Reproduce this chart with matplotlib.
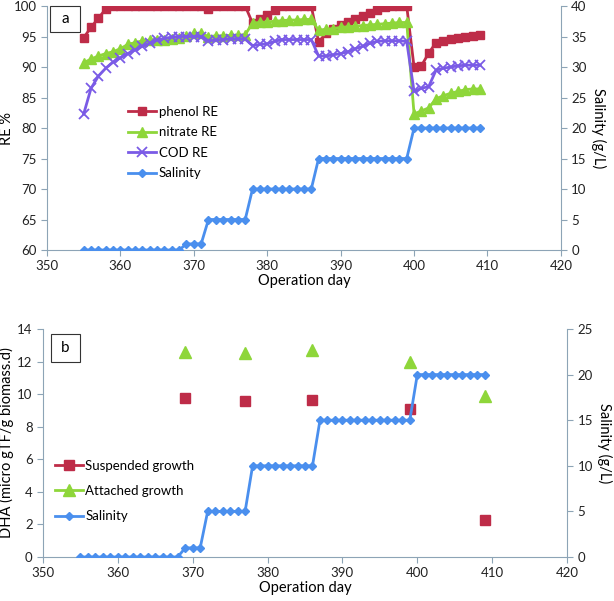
import matplotlib.pyplot as plt
from matplotlib.patches import Rectangle

plt.rcParams['font.family'] = ['Lato', 'DejaVu Sans']

days = list(range(355, 410))
phenol = [94.8, 96.5, 98.0, 99.5, 100, 100, 100, 100, 100, 100, 100, 100, 100, 100,
          100, 100, 100, 99.5, 100, 100, 100, 100, 100,
          97.2, 97.8, 98.5, 99.3, 100, 100, 100, 100, 100,
          94.1, 95.5, 96.3, 96.9, 97.4, 97.9, 98.4, 98.9, 99.4, 99.8, 100, 100, 100,
          90.0, 90.2, 92.3, 94.0, 94.3, 94.6, 94.8, 95.0, 95.1, 95.3]
nitrate = [90.7, 91.3, 91.8, 92.2, 92.5, 93.0, 93.7, 94.0, 94.3, 94.4, 94.5, 94.5, 94.6, 94.8,
           95.1, 95.5, 95.5, 95.0, 95.1, 95.1, 95.2, 95.2, 95.3,
           97.2, 97.3, 97.4, 97.5, 97.6, 97.7, 97.7, 97.8, 97.8,
           96.0, 96.2, 96.3, 96.5, 96.6, 96.7, 96.8, 96.9, 97.0, 97.1, 97.2, 97.3, 97.3,
           82.3, 82.8, 83.3, 84.8, 85.3, 85.7, 86.0, 86.3, 86.4, 86.4]
cod = [82.3, 86.5, 88.5, 89.8, 90.8, 91.5, 92.2, 92.8, 93.4, 93.9, 94.4, 94.7, 94.9, 95.0,
       95.0, 95.0, 95.0, 94.3, 94.4, 94.5, 94.6, 94.6, 94.6,
       93.5, 93.7, 93.8, 94.2, 94.5, 94.5, 94.5, 94.5, 94.5,
       91.8, 91.8, 92.0, 92.2, 92.5, 93.0, 93.4, 93.9, 94.2, 94.3, 94.3, 94.3, 94.2,
       86.0, 86.5, 86.8, 89.5, 89.8, 90.0, 90.2, 90.3, 90.3, 90.3]
salinity = [0] * 14 + [1] * 3 + [5] * 6 + [10] * 9 + [15] * 13 + [20] * 10

dha_days = [369, 377, 386, 399, 409]
suspended = [9.75, 9.6, 9.65, 9.1, 2.3]
attached = [12.6, 12.55, 12.7, 11.95, 9.9]

c_phen = '#BE2C48'
c_nit = '#8ED63A'
c_cod = '#7A5BE6'
c_sal = '#4A8FEE'
c_ax = '#8DA4B6'

fig = plt.figure(figsize=(6.14, 6.01), dpi=100)


def style(ax, ax2):
    for a in (ax, ax2):
        a.spines['top'].set_visible(False)
        for s in ('left', 'right', 'bottom'):
            a.spines[s].set_color(c_ax)
        a.tick_params(colors=c_ax, labelcolor='#222222', labelsize=9.5, length=4)
    ax.spines['right'].set_visible(False)
    ax2.spines['left'].set_visible(False)
    ax2.spines['bottom'].set_visible(False)
    ax.set_xlim(350, 420)
    ax.set_xticks(range(350, 421, 10))
    ax.set_xlabel('Operation day', fontsize=10.5, labelpad=1)


def label_box(ax, txt, x0, y0, x1, y1):
    ax.add_patch(Rectangle((x0, y0), x1 - x0, y1 - y0, transform=ax.transAxes,
                           fc='white', ec='#333333', lw=0.8, zorder=5, clip_on=False))
    ax.text((x0 + x1) / 2, (y0 + y1) / 2, txt, transform=ax.transAxes, fontsize=11,
            ha='center', va='center', zorder=6)


# panel a
ax = fig.add_axes([0.0765, 0.584, 0.837, 0.406])
ax2 = ax.twinx()
l1, = ax.plot(days, phenol, color=c_phen, lw=2, marker='s', ms=6, label='phenol RE')
l2, = ax.plot(days, nitrate, color=c_nit, lw=2, marker='^', ms=6.5, label='nitrate RE')
l3, = ax.plot(days, cod, color=c_cod, lw=2, marker='x', ms=7, mew=1.3, label='COD RE')
l4, = ax2.plot(days, salinity, color=c_sal, lw=2, marker='D', ms=4.5, label='Salinity')
ax.set_ylim(60, 100)
ax.set_yticks(range(60, 101, 5))
ax2.set_ylim(0, 40)
ax2.set_yticks(range(0, 41, 5))
style(ax, ax2)
ax.set_ylabel('RE %', fontsize=10.5)
ax.yaxis.set_label_coords(-0.064, 0.5)
ax2.set_ylabel('Salinity (g/L)', fontsize=10.5, rotation=270, labelpad=14)
ax2.legend(handles=[l1, l2, l3, l4], loc='upper left', bbox_to_anchor=(0.135, 0.64),
           frameon=False, fontsize=9.5, handlelength=2.1, labelspacing=0.65, handletextpad=0.2)
label_box(ax2, 'a', 0.006, 0.893, 0.064, 1.0)

# panel b
bx = fig.add_axes([0.070, 0.0732, 0.8535, 0.3794])
bx2 = bx.twinx()
m1, = bx.plot(dha_days, suspended, ls='none', color=c_phen, marker='s', ms=7.5)
m2, = bx.plot(dha_days, attached, ls='none', color=c_nit, marker='^', ms=8.5)
m4, = bx2.plot(days, salinity, color=c_sal, lw=2, marker='D', ms=4.5)
bx.set_ylim(0, 14)
bx.set_yticks(range(0, 15, 2))
bx2.set_ylim(0, 25)
bx2.set_yticks(range(0, 26, 5))
style(bx, bx2)
bx.set_ylabel('DHA (micro gTF/g biomass.d)', fontsize=10.5)
bx.yaxis.set_label_coords(-0.055, 0.5)
bx2.set_ylabel('Salinity (g/L)', fontsize=10.5, rotation=270, labelpad=14)
h1 = plt.Line2D([], [], color=c_phen, lw=2, marker='s', ms=7.5)
h2 = plt.Line2D([], [], color=c_nit, lw=2, marker='^', ms=8.5)
bx2.legend(handles=[h1, h2, m4], labels=['Suspended growth', 'Attached growth', 'Salinity'],
           loc='upper left', bbox_to_anchor=(0.0, 0.478), frameon=False, fontsize=9.5,
           handlelength=2.1, labelspacing=1.0, handletextpad=0.2)
label_box(bx2, 'b', 0.015, 0.855, 0.071, 0.978)

fig.savefig('out.png', dpi=100)
